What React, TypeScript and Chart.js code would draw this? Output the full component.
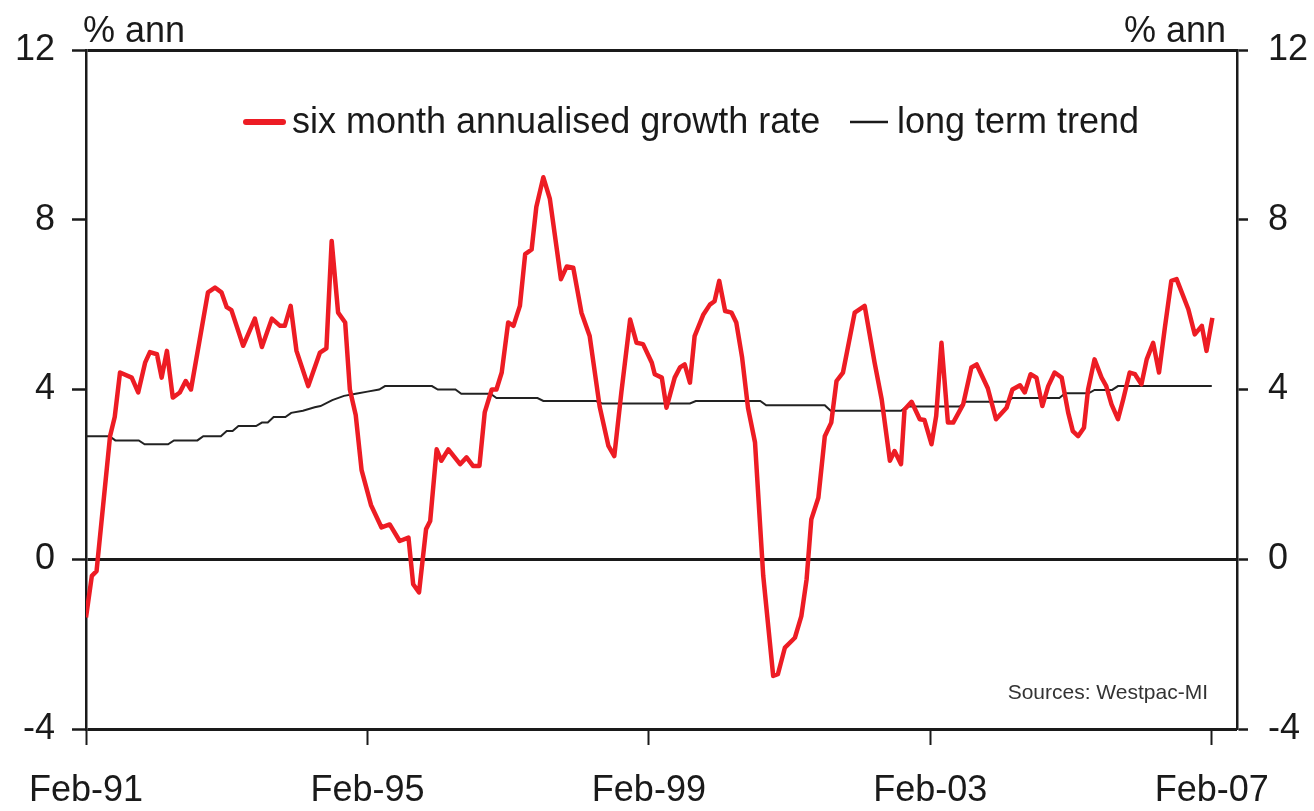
import React, { useEffect, useRef } from "react";
import { Chart, registerables } from "chart.js";

Chart.register(...registerables);

// Months since Feb-91
const xTickMonths = [0, 48, 96, 144, 192];
const xTickLabels = ["Feb-91", "Feb-95", "Feb-99", "Feb-03", "Feb-07"];
const yTickValues = [-4, 0, 4, 8, 12];

const growthMonths = [
  0, 1, 1.8, 4.1, 4.9, 5.8, 7.8, 8.9, 10.1, 10.9, 12.1, 12.9, 13.8, 14.8, 16, 17, 17.9, 19.4, 20.8, 22,
  23.1, 24, 24.8, 26.8, 28.8, 30, 31.7, 33.1, 33.9, 34.9, 35.9, 37.9, 39.9, 41, 41.9, 43, 44.2, 45, 46, 47,
  48.6, 50.4, 51.8, 53.5, 55, 55.8, 56.8, 58, 58.7, 59.8, 60.6, 61.8, 63.8, 64.9, 66, 67.1, 68, 69.2, 70, 70.9,
  72, 72.9, 74, 74.9, 76, 76.8, 78, 79.1, 81, 82, 83.1, 84.5, 85.9, 87.6, 89.1, 90.1, 91.3, 92.8, 93.9, 95,
  96.5, 97, 98.2, 99, 100.4, 101.3, 102.1, 103, 103.8, 105.3, 106.4, 107.2, 108, 109, 110.1, 110.9, 111.9, 112.9, 114.1, 115.5,
  117.2, 118, 119.2, 120.9, 122, 122.9, 123.7, 124.9, 126, 127.1, 128, 129.1, 131.1, 132.8, 134.5, 135.7, 137.1, 137.9, 139, 139.6,
  140.8, 142.2, 143, 144.2, 145, 145.9, 147, 147.9, 149.6, 151, 151.9, 153.8, 155.2, 157, 158, 159.3, 160.1, 161.1, 162.1, 163.1,
  164.1, 165.2, 166.4, 167.5, 168.3, 169.2, 170.2, 170.9, 172, 173.2, 174, 174.9, 176, 176.9, 178, 178.9, 180, 180.9, 182, 183,
  184, 185.1, 186, 188, 189.1, 190.3, 191.1, 192.1,
];
const growthValues = [
  -1.37, -0.39, -0.28, 2.9, 3.35, 4.4, 4.28, 3.93, 4.64, 4.88, 4.83, 4.28, 4.91, 3.81, 3.93, 4.2, 4.0, 5.18, 6.29, 6.4,
  6.29, 5.94, 5.87, 5.03, 5.67, 5.0, 5.67, 5.5, 5.5, 5.97, 4.91, 4.08, 4.87, 4.97, 7.5, 5.81, 5.58, 4.0, 3.4, 2.1,
  1.28, 0.75, 0.82, 0.43, 0.51, -0.59, -0.78, 0.71, 0.9, 2.59, 2.32, 2.59, 2.24, 2.4, 2.2, 2.2, 3.46, 4.0, 4.0, 4.4,
  5.58, 5.5, 5.97, 7.19, 7.3, 8.3, 9.0, 8.5, 6.6, 6.9, 6.87, 5.81, 5.26, 3.6, 2.67, 2.43, 3.93, 5.65, 5.1, 5.07,
  4.63, 4.36, 4.28, 3.57, 4.28, 4.52, 4.59, 4.16, 5.26, 5.77, 6.0, 6.08, 6.56, 5.85, 5.81, 5.58, 4.75, 3.57, 2.75, -0.39,
  -2.75, -2.71, -2.08, -1.85, -1.34, -0.47, 0.94, 1.45, 2.9, 3.22, 4.2, 4.4, 5.81, 5.97, 4.63, 3.77, 2.32, 2.55, 2.24, 3.53,
  3.71, 3.3, 3.28, 2.71, 3.38, 5.1, 3.22, 3.22, 3.65, 4.52, 4.59, 4.03, 3.3, 3.57, 4.0, 4.1, 3.93, 4.36, 4.28, 3.61,
  4.08, 4.4, 4.28, 3.46, 3.02, 2.9, 3.1, 4.0, 4.71, 4.28, 4.08, 3.65, 3.3, 3.77, 4.4, 4.36, 4.12, 4.71, 5.1, 4.4,
  5.46, 6.56, 6.6, 5.89, 5.3, 5.5, 4.91, 5.69,
];

const trendMonths = [
  0, 4, 5, 9, 10, 14, 15, 19, 20, 23, 24, 25, 26, 29, 30, 31, 32, 34, 35, 37,
  39, 40, 42, 44, 46, 48, 50, 51, 59, 60, 63, 64, 69, 70, 77, 78, 87, 88, 103, 104,
  115, 116, 126, 127, 139, 140, 149, 150, 157, 158, 166, 167, 171, 172, 175, 176, 192,
];
const trendValues = [
  2.9, 2.9, 2.8, 2.8, 2.71, 2.71, 2.8, 2.8, 2.9, 2.9, 3.02, 3.02, 3.14, 3.14, 3.22, 3.22, 3.35, 3.35, 3.45, 3.5,
  3.58, 3.61, 3.75, 3.85, 3.9, 3.95, 4.0, 4.08, 4.08, 4.0, 4.0, 3.9, 3.9, 3.8, 3.8, 3.73, 3.73, 3.67, 3.67, 3.73,
  3.73, 3.63, 3.63, 3.5, 3.5, 3.6, 3.6, 3.71, 3.71, 3.8, 3.8, 3.91, 3.91, 3.99, 3.99, 4.08, 4.08,
];

const growthLabel = "six month annualised growth rate";
const trendLabel = "long term trend";
const unitLabel = "% ann";
const sourceLabel = "Sources: Westpac-MI";

const FONT = "'Liberation Sans', Arial, Helvetica, sans-serif";
const RED = "#ed1c24";
const INK = "#1a1a1a";

const overlayPlugin = {
  id: "overlayText",
  afterDraw(chart: any) {
    const ctx = chart.ctx as CanvasRenderingContext2D;
    ctx.save();
    // Legend
    ctx.font = `36px ${FONT}`;
    ctx.textBaseline = "middle";
    ctx.lineCap = "round";
    ctx.strokeStyle = RED;
    ctx.lineWidth = 6;
    ctx.beginPath();
    ctx.moveTo(246, 122);
    ctx.lineTo(283, 122);
    ctx.stroke();
    ctx.fillStyle = INK;
    ctx.textAlign = "left";
    ctx.fillText(growthLabel, 292, 123);
    ctx.lineCap = "butt";
    ctx.strokeStyle = INK;
    ctx.lineWidth = 2.5;
    ctx.beginPath();
    ctx.moveTo(850, 122);
    ctx.lineTo(888, 122);
    ctx.stroke();
    ctx.fillText(trendLabel, 897, 123);
    // Units
    ctx.textBaseline = "alphabetic";
    ctx.font = `36px ${FONT}`;
    ctx.textAlign = "left";
    ctx.fillText(unitLabel, 83, 42);
    ctx.textAlign = "right";
    ctx.fillText(unitLabel, 1226, 42);
    // Source
    ctx.font = `21px ${FONT}`;
    ctx.fillStyle = "#333";
    ctx.textAlign = "right";
    ctx.fillText(sourceLabel, 1208, 699);
    ctx.restore();
  },
};

export default function App() {
  const canvasRef = useRef<HTMLCanvasElement | null>(null);

  useEffect(() => {
    if (!canvasRef.current) return;
    const setTicks = (vals: number[]) => (scale: any) => {
      scale.ticks = vals.map((v) => ({ value: v }));
    };
    const gridColor = (ctx: any) => {
      const v = ctx.tick ? ctx.tick.value : null;
      return v === 12 || v === 0 || v === -4 ? INK : "rgba(0,0,0,0)";
    };
    const chart = new Chart(canvasRef.current, {
      type: "line",
      data: {
        datasets: [
          {
            label: growthLabel,
            data: growthMonths.map((m, i) => ({ x: m, y: growthValues[i] })),
            borderColor: RED,
            borderWidth: 4.5,
            pointRadius: 0,
            tension: 0,
            yAxisID: "y",
            borderJoinStyle: "round",
          },
          {
            label: trendLabel,
            data: trendMonths.map((m, i) => ({ x: m, y: trendValues[i] })),
            borderColor: "#222",
            borderWidth: 2,
            pointRadius: 0,
            tension: 0,
            yAxisID: "y",
          },
        ],
      },
      options: {
        animation: false,
        responsive: false,
        devicePixelRatio: 1,
        layout: { padding: { top: 50, left: 0, right: 0, bottom: 0 } },
        plugins: { legend: { display: false }, tooltip: { enabled: false } },
        scales: {
          x: {
            type: "linear",
            min: 0,
            max: 196.3,
            afterBuildTicks: setTicks(xTickMonths),
            afterFit: (s: any) => {
              s.height = 82;
            },
            ticks: {
              autoSkip: false,
              maxRotation: 0,
              padding: 24,
              color: INK,
              font: { family: FONT, size: 36 },
              callback: (v: any) => {
                const idx = xTickMonths.indexOf(Number(v));
                return idx >= 0 ? xTickLabels[idx] : "";
              },
            },
            grid: { drawOnChartArea: false, tickLength: 16, tickColor: INK, tickWidth: 2 },
            border: { display: false },
          },
          y: {
            position: "left",
            min: -4,
            max: 12,
            afterBuildTicks: setTicks(yTickValues),
            afterFit: (s: any) => {
              s.width = 86;
            },
            ticks: { padding: 17, color: INK, font: { family: FONT, size: 36 } },
            grid: {
              color: gridColor,
              lineWidth: 3,
              tickLength: 14,
              tickColor: INK,
              tickWidth: 2.5,
            },
            border: { color: INK, width: 2.5 },
          },
          y2: {
            position: "right",
            min: -4,
            max: 12,
            afterBuildTicks: setTicks(yTickValues),
            afterFit: (s: any) => {
              s.width = 77;
            },
            ticks: { padding: 20, color: INK, font: { family: FONT, size: 36 } },
            grid: { drawOnChartArea: false, tickLength: 11, tickColor: INK, tickWidth: 2.5 },
            border: { color: INK, width: 2.5 },
          },
        },
      },
      plugins: [overlayPlugin],
    } as any);
    return () => chart.destroy();
  }, []);

  return (
    <div style={{ position: "absolute", left: 0, top: 0, width: 1314, height: 811, background: "#fff" }}>
      <canvas ref={canvasRef} width={1314} height={811} style={{ width: 1314, height: 811, display: "block" }} />
    </div>
  );
}
